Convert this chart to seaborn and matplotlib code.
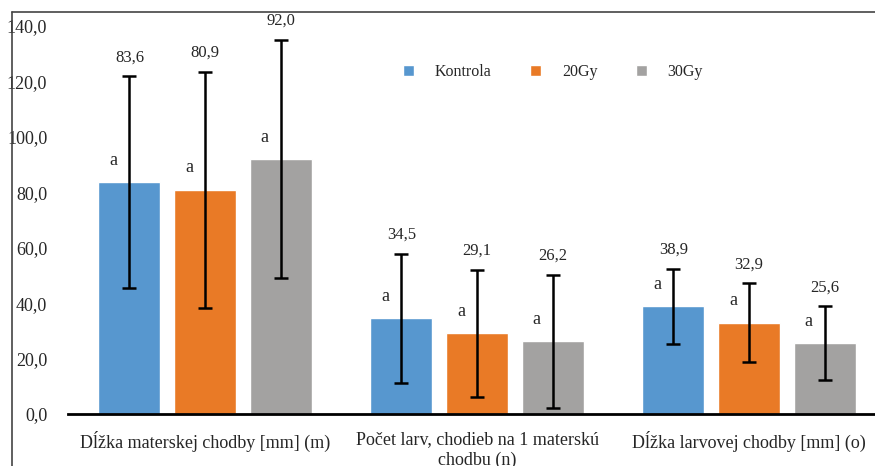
import matplotlib.pyplot as plt
import pandas as pd
import seaborn as sns
from matplotlib.lines import Line2D

categories = [
    "Dĺžka materskej chodby [mm] (m)",
    "Počet larv, chodieb na 1 materskú\nchodbu (n)",
    "Dĺžka larvovej chodby [mm] (o)",
]
groups = ["Kontrola", "20Gy", "30Gy"]
kontrola = [83.6, 34.5, 38.9]
gy20 = [80.9, 29.1, 32.9]
gy30 = [92.0, 26.2, 25.6]
err_kontrola = [38.3, 23.2, 13.6]
err_gy20 = [42.5, 23.0, 14.2]
err_gy30 = [43.0, 24.0, 13.3]
letters = ["a", "a", "a"]
yticks = [0, 20, 40, 60, 80, 100, 120, 140]

colors = ["#5797CF", "#E97A26", "#A3A2A1"]

df = pd.DataFrame({
    "category": categories * 3,
    "group": [g for g in groups for _ in categories],
    "value": kontrola + gy20 + gy30,
})
errors = [err_kontrola, err_gy20, err_gy30]
means = [kontrola, gy20, gy30]

sns.set_style("white")
plt.rcParams["font.family"] = ["Liberation Serif", "DejaVu Serif"]

fig = plt.figure(figsize=(8.75, 4.66), dpi=100)
ax = fig.add_axes([68 / 875, 52 / 466, 807 / 875, 388 / 466])

sns.barplot(
    data=df, x="category", y="value", hue="group", hue_order=groups,
    palette=colors, width=0.834, gap=0.18, saturation=1, errorbar=None,
    ax=ax, legend=True,
)

# error bars and labels on each bar
bar_containers = list(ax.containers)
for i, cont in enumerate(bar_containers):
    for j, bar in enumerate(cont):
        cx = bar.get_x() + bar.get_width() / 2
        m = means[i][j]
        e = errors[i][j]
        ax.errorbar(cx, m, yerr=e, color="black", lw=1.8, capsize=5,
                    capthick=1.8, zorder=5)
        ax.annotate(f"{m:.1f}".replace(".", ","), (cx, m + e),
                    xytext=(0, 19), textcoords="offset pixels",
                    ha="center", va="center", fontsize=12)
        ax.annotate(letters[j], (cx, m), xytext=(-16, 22),
                    textcoords="offset pixels",
                    ha="center", va="center", fontsize=13)

ax.set_ylim(0, 140)
ax.set_xlim(-0.504, 2.463)
ax.set_yticks(yticks)
ax.set_yticklabels([f"{t:.1f}".replace(".", ",") for t in yticks], fontsize=13)
ax.tick_params(axis="y", length=0, pad=15)
ax.tick_params(axis="x", length=0, pad=12, labelsize=13)
for lab in ax.get_xticklabels():
    lab.set_linespacing(1.3)
ax.set_xlabel("")
ax.set_ylabel("")
for s in ["top", "right", "left"]:
    ax.spines[s].set_visible(False)
ax.spines["bottom"].set_color("black")
ax.spines["bottom"].set_linewidth(2)

leg = ax.legend(
    loc="center", bbox_to_anchor=(0.632, 0.845), bbox_transform=fig.transFigure,
    ncol=3, frameon=False, fontsize=11.5, handlelength=0.7, handleheight=0.7,
    handletextpad=1.3, columnspacing=2.4,
)

# outer chart border (cropped on right and bottom)
fig.add_artist(Line2D([12 / 875, 1], [1 - 12 / 466, 1 - 12 / 466],
                      transform=fig.transFigure, color="#444444", lw=1.2))
fig.add_artist(Line2D([12 / 875, 12 / 875], [0, 1 - 12 / 466],
                      transform=fig.transFigure, color="#444444", lw=1.2))

fig.savefig("out.png", dpi=100)
